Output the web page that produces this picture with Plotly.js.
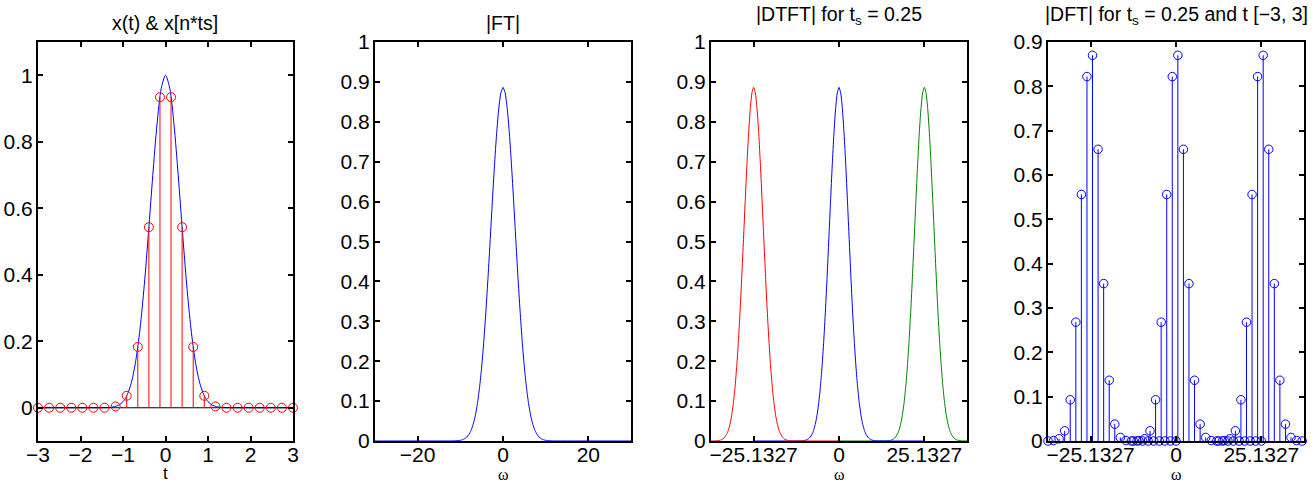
<!DOCTYPE html>
<html>
<head>
<meta charset="utf-8">
<script src="https://cdn.plot.ly/plotly-3.0.1.min.js"></script>
<style>html,body{margin:0;padding:0;background:#fff}#chart{width:1315px;height:485px}</style>
</head>
<body>
<div id="chart"></div>
<script>
// ---------- Panel 1: x(t) and its samples x[n*ts] ----------
const tCont = [-3, -1.5, -1.4, -1.3, -1.2, -1.1, -1.0, -0.9, -0.8, -0.7, -0.6, -0.5, -0.4, -0.3, -0.2, -0.1, 0,
               0.1, 0.2, 0.3, 0.4, 0.5, 0.6, 0.7, 0.8, 0.9, 1.0, 1.1, 1.2, 1.3, 1.4, 1.5, 3];
const xCont = [0, 0.0001, 0.0004, 0.0012, 0.0032, 0.0079, 0.0183, 0.0392, 0.0773, 0.1409, 0.2369, 0.3679, 0.5273, 0.6977, 0.8521, 0.9608, 1,
               0.9608, 0.8521, 0.6977, 0.5273, 0.3679, 0.2369, 0.1409, 0.0773, 0.0392, 0.0183, 0.0079, 0.0032, 0.0012, 0.0004, 0.0001, 0];
const tSamples = [-3, -2.739, -2.478, -2.217, -1.957, -1.696, -1.435, -1.174, -0.913, -0.652, -0.391, -0.130,
                  0.130, 0.391, 0.652, 0.913, 1.174, 1.435, 1.696, 1.957, 2.217, 2.478, 2.739, 3];
const xSamples = [0, 0, 0, 0, 0, 0, 0, 0.004, 0.036, 0.183, 0.543, 0.934,
                  0.934, 0.543, 0.183, 0.036, 0.004, 0, 0, 0, 0, 0, 0, 0];

// ---------- Panel 2 / 3: |FT| magnitude ----------
const ftOmegaCore = [-12, -11.5, -11, -10.5, -10, -9.5, -9, -8.5, -8, -7.5, -7, -6.5, -6, -5.5, -5, -4.5, -4, -3.5, -3, -2.5, -2, -1.5, -1, -0.5, 0,
                     0.5, 1, 1.5, 2, 2.5, 3, 3.5, 4, 4.5, 5, 5.5, 6, 6.5, 7, 7.5, 8, 8.5, 9, 9.5, 10, 10.5, 11, 11.5, 12];
const ftMagCore = [0.0001, 0.0002, 0.0005, 0.0009, 0.0017, 0.0031, 0.0056, 0.0097, 0.0162, 0.0263, 0.0414, 0.0632, 0.0934, 0.1338, 0.1857, 0.2500,
                   0.3260, 0.4121, 0.5050, 0.5996, 0.6902, 0.7699, 0.8325, 0.8725, 0.8862,
                   0.8725, 0.8325, 0.7699, 0.6902, 0.5996, 0.5050, 0.4121, 0.3260, 0.2500, 0.1857, 0.1338, 0.0934, 0.0632, 0.0414, 0.0263,
                   0.0162, 0.0097, 0.0056, 0.0031, 0.0017, 0.0009, 0.0005, 0.0002, 0.0001];
const ftSpan = 30;          // omega extent of the |FT| curve
const dtftSpan = 25.1327;   // omega extent of each DTFT copy
const omegaS = 25.1327;     // sampling frequency 2*pi/ts
const omegaRange = 37.699;  // 12*pi

// ---------- Panel 4: |DFT| ----------
const dftOmega = [-12.566, -10.927, -9.288, -7.649, -6.010, -4.371, -2.732, -1.093, 0.546, 2.185, 3.824, 5.463,
                  7.102, 8.741, 10.380, 12.019, 13.658, 15.297, 16.936, 18.575, 20.214, 21.853, 23.492, 25.133];
const dftMag = [0, 0.001, 0.005, 0.023, 0.093, 0.268, 0.556, 0.822, 0.870, 0.658, 0.355, 0.137,
                0.038, 0.008, 0.001, 0, 0, 0, 0, 0, 0, 0, 0, 0];
const omegaTicks = [-25.1327, 0, 25.1327];
const omegaTickText = ['\u221225.1327', '0', '25.1327'];

const BLUE = '#0000ff', RED = '#ff0000', GREEN = '#008000';

function withEnds(xs, ys, span) {
  return { x: [-span].concat(xs, [span]), y: [0].concat(ys, [0]) };
}
function stems(xs, ys) {
  const sx = [], sy = [];
  xs.forEach((v, i) => { sx.push(v, v, null); sy.push(0, ys[i], null); });
  return { x: sx, y: sy };
}

const traces = [];
// Panel 1
traces.push({ x: tCont, y: xCont, type: 'scatter', mode: 'lines', line: { color: BLUE, width: 1, shape: 'spline', smoothing: 0.8 }, xaxis: 'x', yaxis: 'y', hoverinfo: 'skip' });
traces.push({ x: [tSamples[0], tSamples[tSamples.length - 1]], y: [0, 0], type: 'scatter', mode: 'lines', line: { color: '#000000', width: 1 }, xaxis: 'x', yaxis: 'y' });
const s1 = stems(tSamples, xSamples);
traces.push({ x: s1.x, y: s1.y, type: 'scatter', mode: 'lines', line: { color: RED, width: 1 }, xaxis: 'x', yaxis: 'y' });
traces.push({ x: tSamples, y: xSamples, type: 'scatter', mode: 'markers', cliponaxis: false,
  marker: { symbol: 'circle-open', size: 9, color: RED, line: { width: 1, color: RED } }, xaxis: 'x', yaxis: 'y' });

// Panel 2
const ft = withEnds(ftOmegaCore, ftMagCore, ftSpan);
traces.push({ x: ft.x, y: ft.y, type: 'scatter', mode: 'lines', line: { color: BLUE, width: 1, shape: 'spline', smoothing: 0.6 }, xaxis: 'x2', yaxis: 'y2' });

// Panel 3 (green, blue, red draw order)
const dt = withEnds(ftOmegaCore, ftMagCore, dtftSpan);
[[omegaS, GREEN], [0, BLUE], [-omegaS, RED]].forEach(([shift, col]) => {
  traces.push({ x: dt.x.map(v => v + shift), y: dt.y, type: 'scatter', mode: 'lines',
    line: { color: col, width: 1, shape: 'spline', smoothing: 0.6 }, xaxis: 'x3', yaxis: 'y3' });
});

// Panel 4
const dx = [], dy = [];
[-omegaS, 0, omegaS].forEach(shift => {
  dftOmega.forEach((w, i) => {
    const v = w + shift;
    if (v >= -omegaRange - 0.01 && v <= omegaRange + 0.01) { dx.push(v); dy.push(dftMag[i]); }
  });
});
const s4 = stems(dx, dy);
traces.push({ x: s4.x, y: s4.y, type: 'scatter', mode: 'lines', line: { color: BLUE, width: 1 }, xaxis: 'x4', yaxis: 'y4' });
traces.push({ x: dx, y: dy, type: 'scatter', mode: 'markers', cliponaxis: false,
  marker: { symbol: 'circle-open', size: 8.5, color: BLUE, line: { width: 1, color: BLUE } }, xaxis: 'x4', yaxis: 'y4' });

const W = 1315, H = 485;
const FONT = 'Liberation Sans, Arial, Helvetica, sans-serif';
const yDom = [1 - 441 / H, 1 - 42 / H];
const panels = [[38, 293], [375, 631], [711, 967], [1048, 1304]];

function axBase(extra) {
  return Object.assign({
    showline: true, linecolor: '#000', linewidth: 2, mirror: 'ticks',
    ticks: 'inside', ticklen: 5, tickwidth: 2, tickcolor: '#000',
    showgrid: false, zeroline: false, fixedrange: true,
    tickfont: { family: FONT, size: 21, color: '#000' }
  }, extra);
}

const layout = {
  width: W, height: H, showlegend: false,
  margin: { l: 0, r: 0, t: 0, b: 0 },
  paper_bgcolor: '#fff', plot_bgcolor: '#fff',
  font: { family: FONT, size: 21, color: '#000' },
  xaxis: axBase({ domain: [panels[0][0] / W, panels[0][1] / W], range: [-3, 3], dtick: 1, anchor: 'y', ticklabelstandoff: -6 }),
  yaxis: axBase({ domain: yDom, range: [-0.1, 1.1], tickvals: [0, 0.2, 0.4, 0.6, 0.8, 1], anchor: 'x', ticklabelstandoff: -1 }),
  xaxis2: axBase({ domain: [panels[1][0] / W, panels[1][1] / W], range: [-30, 30], tickvals: [-20, 0, 20], anchor: 'y2', ticklabelstandoff: -6 }),
  yaxis2: axBase({ domain: yDom, range: [0, 1], dtick: 0.1, anchor: 'x2', ticklabelstandoff: -1 }),
  xaxis3: axBase({ domain: [panels[2][0] / W, panels[2][1] / W], range: [-omegaRange, omegaRange], tickvals: omegaTicks, ticktext: omegaTickText, anchor: 'y3', ticklabelstandoff: -6 }),
  yaxis3: axBase({ domain: yDom, range: [0, 1], dtick: 0.1, anchor: 'x3', ticklabelstandoff: -1 }),
  xaxis4: axBase({ domain: [panels[3][0] / W, panels[3][1] / W], range: [-omegaRange, omegaRange], tickvals: omegaTicks, ticktext: omegaTickText, anchor: 'y4', ticklabelstandoff: -6 }),
  yaxis4: axBase({ domain: yDom, range: [0, 0.9], dtick: 0.1, anchor: 'x4', ticklabelstandoff: -1 }),
  annotations: []
};

const titles = ['x(t) &amp; x[n*ts]', '|FT|', '|DTFT| for t<sub>s</sub> = 0.25', '|DFT| for t<sub>s</sub> = 0.25 and t [\u22123, 3]'];
const titleY = [23, 23, 16, 16];
const xLabels = ['t', '\u03c9', '\u03c9', '\u03c9'];
panels.forEach((p, i) => {
  const cx = (p[0] + p[1]) / 2 / W;
  layout.annotations.push({ text: titles[i], xref: 'paper', yref: 'paper', x: cx, y: 1 - titleY[i] / H,
    xanchor: 'center', yanchor: 'middle', showarrow: false, font: { family: FONT, size: 19.5, color: '#000' } });
  layout.annotations.push({ text: xLabels[i], xref: 'paper', yref: 'paper', x: cx, y: 1 - 485 / H,
    xanchor: 'center', yanchor: 'bottom', showarrow: false,
    font: { family: i === 0 ? FONT : 'Liberation Serif, DejaVu Serif, serif', size: i === 0 ? 17 : 16, color: '#000' } });
});

Plotly.newPlot('chart', traces, layout, { staticPlot: true, displayModeBar: false });
</script>
</body>
</html>
